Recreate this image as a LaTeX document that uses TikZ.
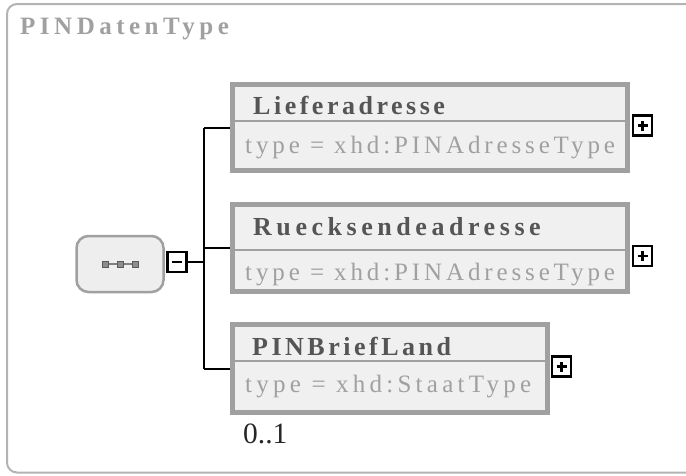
\documentclass[tikz,border=0pt]{standalone}
\usepackage{fontspec}
\setmainfont{Liberation Serif}
\newfontfamily\namefont[LetterSpace=13.5]{Liberation Serif}
\newfontfamily\typefont[LetterSpace=15.5]{Liberation Serif}
\newfontfamily\headfont[LetterSpace=18]{Liberation Serif}
\definecolor{boxgray}{HTML}{A0A0A0}
\definecolor{boxfill}{HTML}{F0F0F0}
\definecolor{seqfill}{HTML}{EEEEEE}
\definecolor{namegray}{HTML}{555555}
\definecolor{icongray}{HTML}{808080}
\tikzset{
  frame/.style={draw=boxgray!80,line width=2,rounded corners=10},
  headtext/.style={anchor=base west,inner sep=0,text=boxgray,font={\fontsize{25}{29}\headfont\bfseries}},
  elembox/.style={draw=boxgray,fill=boxfill,line width=5,inner sep=0},
  sepline/.style={draw=boxgray,line width=2.5},
  elemname/.style={anchor=base west,inner sep=0,text=namegray,font={\fontsize{26}{30}\namefont\bfseries}},
  elemtype/.style={anchor=base west,inner sep=0,text=boxgray,font={\fontsize{25}{29}\typefont}},
  occurs/.style={anchor=base west,inner sep=0,text=black!85,font={\fontsize{29.5}{33}\selectfont}},
  seqbox/.style={draw=boxgray,fill=seqfill,line width=2.5,rounded corners=12,minimum width=87,minimum height=56,inner sep=0},
  seqdot/.style={draw=icongray!70!black,fill=icongray!90,line width=1,minimum size=6,inner sep=0},
  togglebox/.style={draw,fill=white,line width=2.5,minimum width=19,minimum height=20,inner sep=0},
  togglemin/.style={path picture={\draw[line width=2.2] ([xshift=-5pt]path picture bounding box.center) -- ([xshift=5pt]path picture bounding box.center);}},
  toggleplus/.style={path picture={\draw[line width=2.2] ([xshift=-5pt]path picture bounding box.center) -- ([xshift=5pt]path picture bounding box.center) ([yshift=-5pt]path picture bounding box.center) -- ([yshift=5pt]path picture bounding box.center);}},
  conn/.style={draw=black,line width=2}
}
\begin{document}
\begin{tikzpicture}[x=1pt,y=-1pt]
\useasboundingbox (0,0) rectangle (686,475);
\draw[frame] (7,4) rectangle (700,472.5);
\node[headtext] (head) at (20,34) {PINDatenType};
% sequence
\node[seqbox] (seq) at (120,264) {};
\draw[icongray,line width=1.5] ([xshift=-15]seq.center) -- ([xshift=15]seq.center);
\foreach \dx [count=\i] in {-15,0,15} \node[seqdot] (seqdot\i) at ([xshift=\dx]seq.center) {};
\node[togglebox,togglemin] (seqminus) at (177,262) {};
\coordinate (fork) at (204,262);
% elements
\node[elembox,minimum width=395,minimum height=86] (liefer) at (430,127.5) {};
\draw[sepline] (liefer.west |- 0,121) -- (liefer.east |- 0,121);
\node[elemname] (liefername) at (253,114.5) {Lieferadresse};
\node[elemtype] (liefertype) at (245,153) {type = xhd:PINAdresseType};
\node[togglebox,toggleplus] (lieferplus) at (642.5,125.5) {};
\node[elembox,minimum width=395,minimum height=87] (rueck) at (430,248) {};
\draw[sepline] (rueck.west |- 0,250) -- (rueck.east |- 0,250);
\node[elemname] (rueckname) at (253,235.5) {\addfontfeature{LetterSpace=17.5}Ruecksendeadresse};
\node[elemtype] (rucktype) at (245,280) {type = xhd:PINAdresseType};
\node[togglebox,toggleplus] (rueckplus) at (642.5,256) {};
\node[elembox,minimum width=315,minimum height=88] (land) at (390,368.5) {};
\draw[sepline] (land.west |- 0,361) -- (land.east |- 0,361);
\node[elemname] (landname) at (252,355.5) {PINBriefLand};
\node[elemtype] (landtype) at (245,392) {\addfontfeature{LetterSpace=17}type = xhd:StaatType};
\node[togglebox,toggleplus] (landplus) at (561.5,366.5) {};
\node[occurs] (landocc) at (243,443.5) {0..1};
% connectors
\draw[conn] (seqminus) -- (fork);
\draw[conn] (fork |- liefer.west) -- (fork |- land.west);
\foreach \el in {liefer,rueck,land} \draw[conn] (fork |- \el.west) -- (\el.west);
\end{tikzpicture}
\end{document}
